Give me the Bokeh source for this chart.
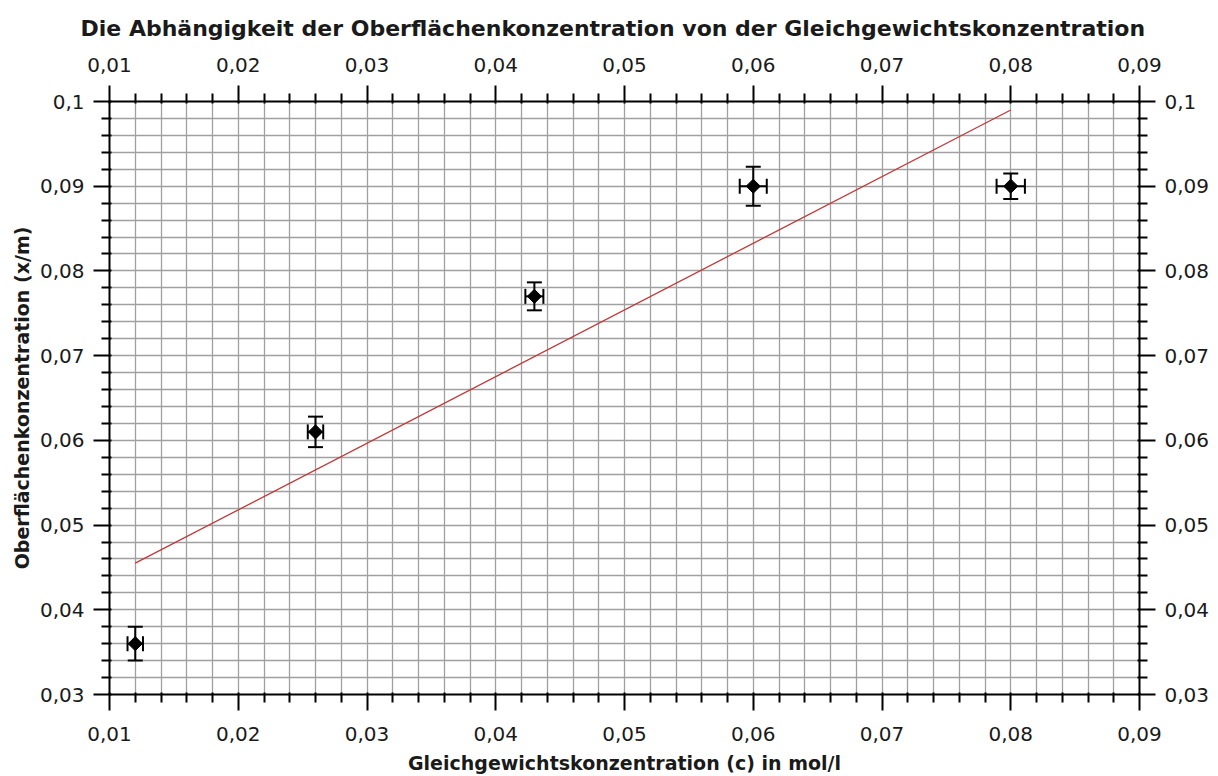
import numpy as np
from bokeh.plotting import figure
from bokeh.models import (FixedTicker, LinearAxis, Range1d, Whisker,
                          ColumnDataSource, TeeHead)
from bokeh.embed import file_html
from bokeh.resources import INLINE

# ---- data ----
x_vals = [0.012, 0.026, 0.043, 0.060, 0.080]
y_vals = [0.036, 0.061, 0.077, 0.090, 0.090]
x_err = [0.0006, 0.0006, 0.0007, 0.00105, 0.0011]
y_err = [0.0020, 0.0018, 0.00165, 0.0023, 0.0015]

fit_x = [0.012, 0.080]
fit_y = [0.0455, 0.0990]

x_ticks = [0.01, 0.02, 0.03, 0.04, 0.05, 0.06, 0.07, 0.08, 0.09]
x_tick_labels = ["0,01", "0,02", "0,03", "0,04", "0,05", "0,06", "0,07", "0,08", "0,09"]
y_ticks = [0.03, 0.04, 0.05, 0.06, 0.07, 0.08, 0.09, 0.1]
y_tick_labels = ["0,03", "0,04", "0,05", "0,06", "0,07", "0,08", "0,09", "0,1"]

title_text = "Die Abhängigkeit der Oberflächenkonzentration von der Gleichgewichtskonzentration"
x_label = "Gleichgewichtskonzentration (c) in mol/l"
y_label = "Oberflächenkonzentration (x/m)"

FONT = "DejaVu Sans"
GRID = "#a0a0a0"
TEXT = "#1a1a1a"


def minor_positions(ticks):
    out = []
    for a, b in zip(ticks[:-1], ticks[1:]):
        step = (b - a) / 5.0
        out.extend([a + k * step for k in range(1, 5)])
    return out


x_ticker = FixedTicker(ticks=x_ticks, minor_ticks=minor_positions(x_ticks))
y_ticker = FixedTicker(ticks=y_ticks, minor_ticks=minor_positions(y_ticks))

p = figure(width=1218, height=776,
           x_range=Range1d(x_ticks[0], x_ticks[-1]),
           y_range=Range1d(y_ticks[0], y_ticks[-1]),
           output_backend="svg", toolbar_location=None,
           min_border_left=109, min_border_right=79,
           min_border_top=101, min_border_bottom=82)
p.outline_line_color = None
p.background_fill_color = "white"
p.border_fill_color = "white"

p.title.text = title_text
p.title.align = "left"
p.title.offset = -29
p.title.text_font = FONT
p.title.text_font_size = "22px"
p.title.text_font_style = "bold"
p.title.text_color = TEXT
p.title.standoff = 27

p.add_layout(LinearAxis(), "above")
p.add_layout(LinearAxis(), "right")


def style_axis(ax, ticker, labels, ticks, standoff):
    ax.ticker = ticker
    ax.major_label_overrides = {t: l for t, l in zip(ticks, labels)}
    ax.axis_line_color = "black"
    ax.axis_line_width = 2
    ax.major_tick_line_color = "black"
    ax.major_tick_line_width = 2
    ax.minor_tick_line_color = "black"
    ax.minor_tick_line_width = 2
    ax.major_tick_out = 16
    ax.major_tick_in = 2
    ax.minor_tick_out = 8
    ax.minor_tick_in = 2
    ax.major_label_text_font = FONT
    ax.major_label_text_font_size = "20px"
    ax.major_label_text_color = TEXT
    ax.major_label_standoff = standoff
    ax.axis_label_text_font = FONT
    ax.axis_label_text_font_size = "19px"
    ax.axis_label_text_font_style = "bold"
    ax.axis_label_text_color = TEXT
    ax.axis_label_standoff = 4


style_axis(p.below[0], x_ticker, x_tick_labels, x_ticks, 16)
style_axis(p.left[0], y_ticker, y_tick_labels, y_ticks, 9)
style_axis(p.right[0], y_ticker, y_tick_labels, y_ticks, 9)
for ax in p.above:
    if isinstance(ax, LinearAxis):
        style_axis(ax, x_ticker, x_tick_labels, x_ticks, 14)

p.below[0].axis_label = x_label
p.below[0].axis_label_standoff = 8
p.left[0].axis_label = y_label

for g, t in ((p.xgrid, x_ticker), (p.ygrid, y_ticker)):
    g.ticker = t
    g.grid_line_color = GRID
    g.grid_line_width = 1.3
    g.minor_grid_line_color = GRID
    g.minor_grid_line_width = 1.3

# regression line
p.line(fit_x, fit_y, line_color="#c03a3a", line_width=1.3)

src = ColumnDataSource(data=dict(
    x=x_vals, y=y_vals,
    ylo=[y - e for y, e in zip(y_vals, y_err)],
    yhi=[y + e for y, e in zip(y_vals, y_err)],
    xlo=[x - e for x, e in zip(x_vals, x_err)],
    xhi=[x + e for x, e in zip(x_vals, x_err)],
))

for dim, base, lo, hi in (("height", "x", "ylo", "yhi"), ("width", "y", "xlo", "xhi")):
    w = Whisker(source=src, base=base, lower=lo, upper=hi, dimension=dim,
                line_color="black", line_width=2,
                upper_head=TeeHead(size=15, line_width=2, line_color="black"),
                lower_head=TeeHead(size=15, line_width=2, line_color="black"))
    p.add_layout(w)

p.scatter("x", "y", source=src, marker="square", angle=np.pi / 4, size=10,
          color="black", level="overlay")

open("out.html", "w").write(file_html(p, INLINE))
